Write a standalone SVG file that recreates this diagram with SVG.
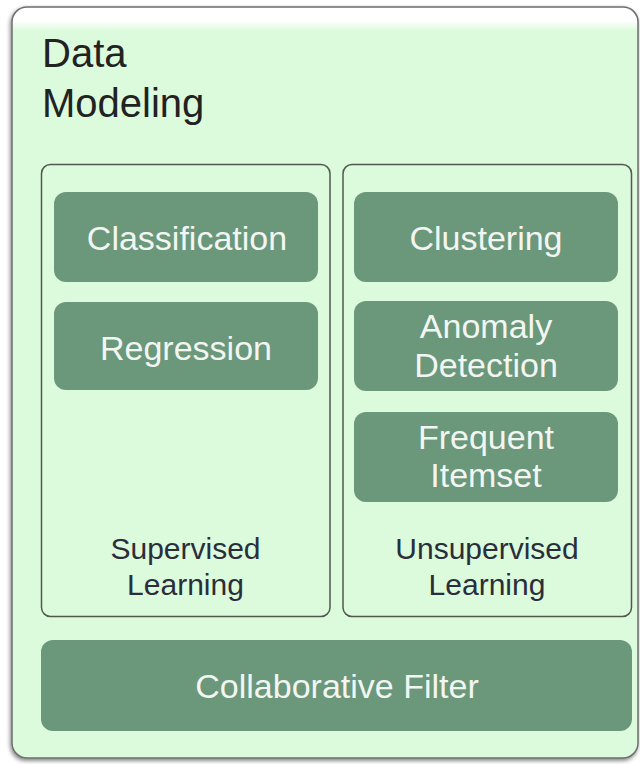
<svg xmlns="http://www.w3.org/2000/svg" width="640" height="764" viewBox="0 0 640 764">
  <defs>
    <linearGradient id="panelFill" x1="0" y1="0" x2="0" y2="1" gradientUnits="objectBoundingBox">
      <stop offset="0" stop-color="#ffffff"/>
      <stop offset="0.018" stop-color="#ffffff"/>
      <stop offset="0.032" stop-color="#dcfadc"/>
      <stop offset="1" stop-color="#dcfadc"/>
    </linearGradient>
    <filter id="panelShadow" x="-5%" y="-5%" width="110%" height="110%">
      <feGaussianBlur in="SourceAlpha" stdDeviation="2"/>
      <feOffset dx="-1.5" dy="2" result="b"/>
      <feComponentTransfer><feFuncA type="linear" slope="0.5"/></feComponentTransfer>
      <feMerge><feMergeNode/><feMergeNode in="SourceGraphic"/></feMerge>
    </filter>
  </defs>
  <style>
    .panel { fill: url(#panelFill); stroke: #6e6e6e; stroke-width: 1.5; }
    .group { fill: #dcfadc; stroke: #505850; stroke-width: 1.5; }
    .node { fill: #6b977b; }
    .title { font-family: "Liberation Sans", Arial, sans-serif; font-size: 40px; fill: #222222; }
    .label { font-family: "Liberation Sans", Arial, sans-serif; font-size: 30px; fill: #2a2e3a; text-anchor: middle; }
    .ntext { font-family: "Liberation Sans", Arial, sans-serif; font-size: 34px; fill: #f2f6f2; text-anchor: middle; }
  </style>
  <rect width="640" height="764" fill="#ffffff"/>

  <g id="data-modeling">
    <rect class="panel" x="12" y="7" width="626" height="751" rx="15" filter="url(#panelShadow)"/>
    <text class="title" x="42" y="67">Data</text>
    <text class="title" x="42" y="117">Modeling</text>
  </g>

  <g id="supervised-learning">
    <rect class="group" x="41.5" y="164.5" width="288.5" height="452" rx="9"/>
    <text class="label" x="185.5" y="559">Supervised</text>
    <text class="label" x="185.5" y="595">Learning</text>
  </g>

  <g id="unsupervised-learning">
    <rect class="group" x="343" y="164.5" width="288.5" height="452" rx="9"/>
    <text class="label" x="487" y="559">Unsupervised</text>
    <text class="label" x="487" y="595">Learning</text>
  </g>

  <g id="classification">
    <rect class="node" x="54" y="192" width="264" height="90" rx="12"/>
    <text class="ntext" x="187" y="250">Classification</text>
  </g>

  <g id="regression">
    <rect class="node" x="54" y="302" width="264" height="88" rx="12"/>
    <text class="ntext" x="186" y="360">Regression</text>
  </g>

  <g id="clustering">
    <rect class="node" x="354" y="192" width="264" height="90" rx="12"/>
    <text class="ntext" x="486" y="250">Clustering</text>
  </g>

  <g id="anomaly-detection">
    <rect class="node" x="354" y="301" width="264" height="90" rx="12"/>
    <text class="ntext" x="486" y="338">Anomaly</text>
    <text class="ntext" x="486" y="377">Detection</text>
  </g>

  <g id="frequent-itemset">
    <rect class="node" x="354" y="412" width="264" height="90" rx="12"/>
    <text class="ntext" x="486" y="449">Frequent</text>
    <text class="ntext" x="486" y="487">Itemset</text>
  </g>

  <g id="collaborative-filter">
    <rect class="node" x="41" y="640" width="591" height="91" rx="12"/>
    <text class="ntext" x="337" y="698">Collaborative Filter</text>
  </g>

  <g id="connectors"/>
</svg>
